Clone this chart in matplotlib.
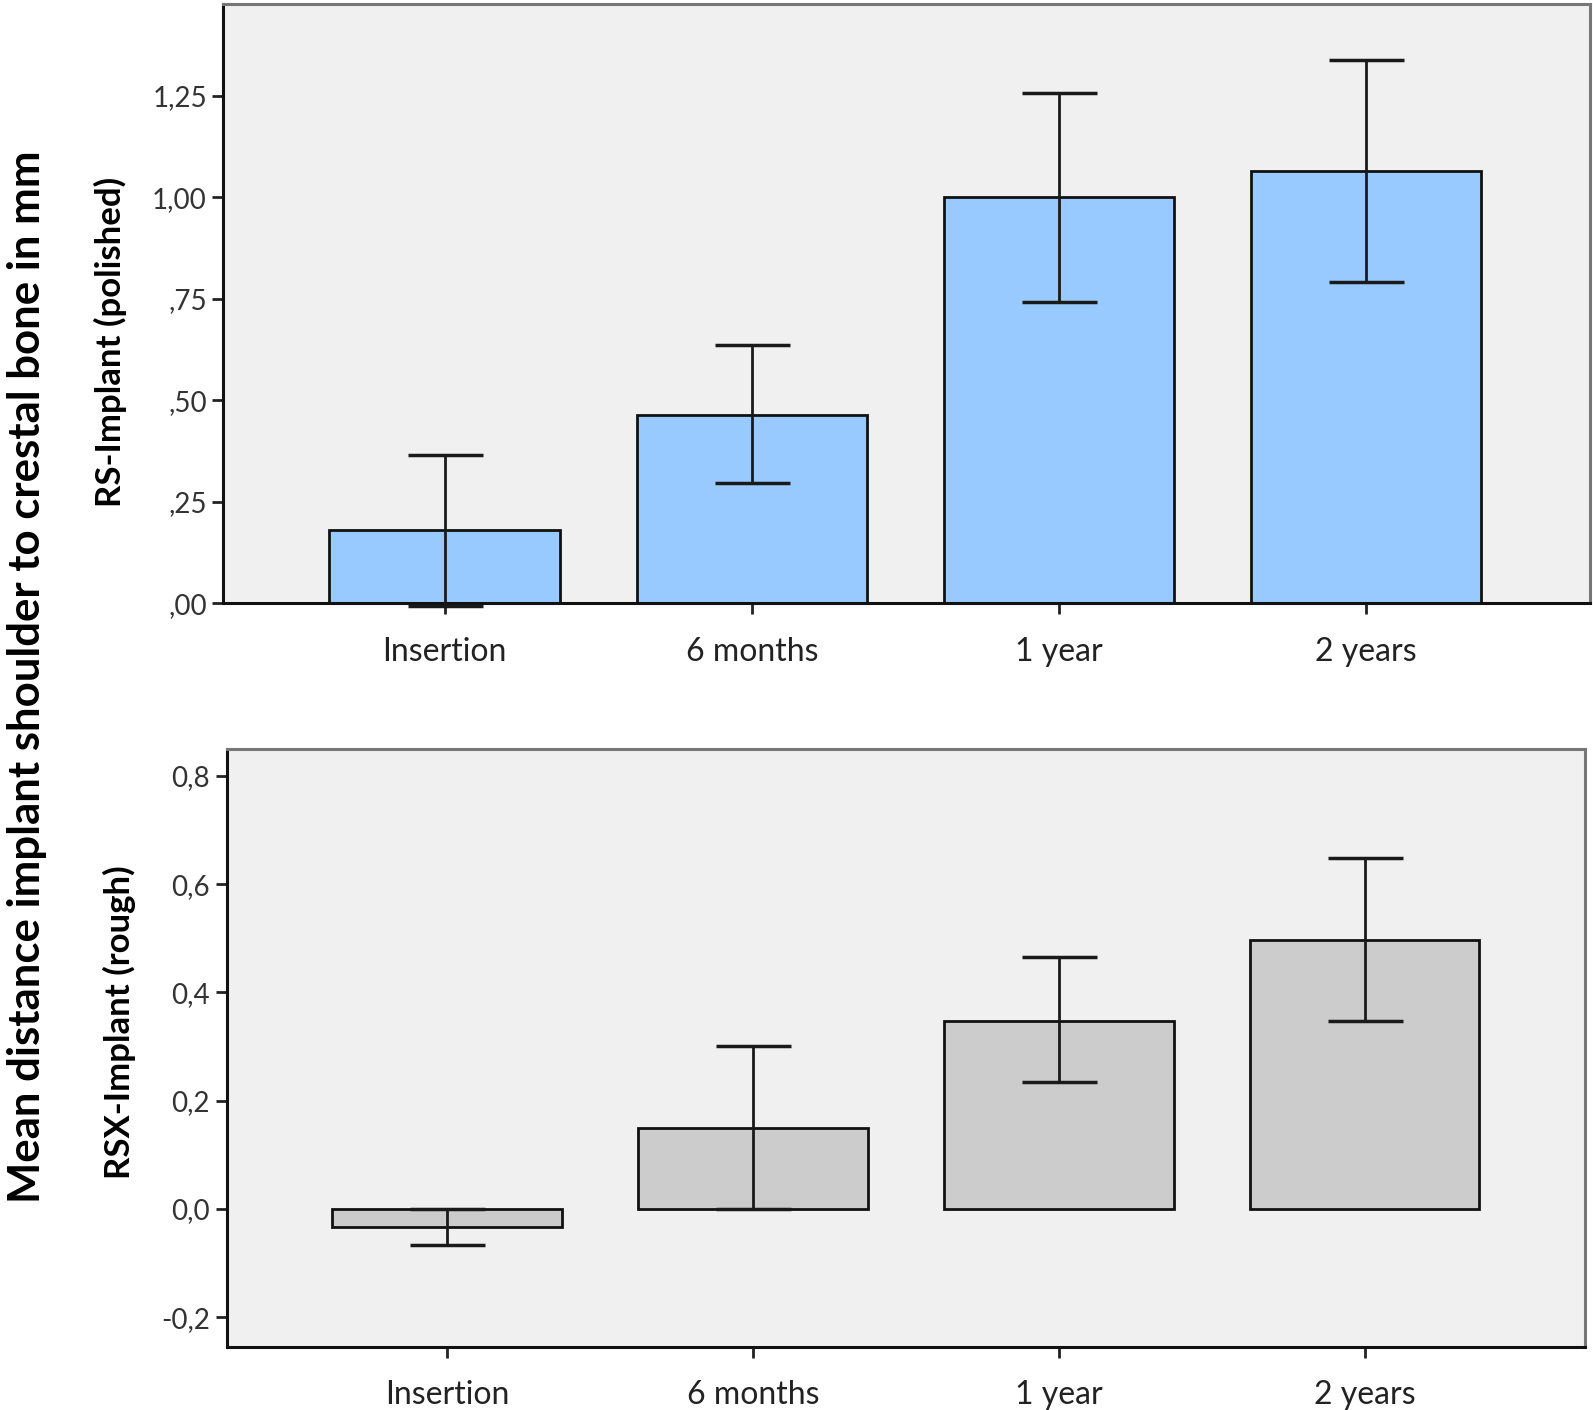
import matplotlib
matplotlib.use("Agg")
import matplotlib.pyplot as plt
import numpy as np

categories = ["Insertion", "6 months", "1 year", "2 years"]

rs_mean = [0.18, 0.465, 1.00, 1.065]
rs_low = [-0.005, 0.2975, 0.7425, 0.7925]
rs_high = [0.365, 0.635, 1.2575, 1.3375]

rsx_mean = [-0.034, 0.15, 0.347, 0.497]
rsx_low = [-0.066, 0.0, 0.2345, 0.347]
rsx_high = [0.0, 0.30, 0.465, 0.649]

rs_ticks = [0.0, 0.25, 0.5, 0.75, 1.0, 1.25]
rs_ticklabels = [",00", ",25", ",50", ",75", "1,00", "1,25"]
rsx_ticks = [-0.2, 0.0, 0.2, 0.4, 0.6, 0.8]
rsx_ticklabels = ["-0,2", "0,0", "0,2", "0,4", "0,6", "0,8"]

plt.rcParams['font.family'] = ['Lato', 'DejaVu Sans']

fig = plt.figure(figsize=(15.93, 14.10), dpi=100)
ax1 = fig.add_axes([0.1403, 0.572, 0.858, 0.425])
ax2 = fig.add_axes([0.1422, 0.0447, 0.8528, 0.4243])

x = np.arange(len(categories))

def style(ax, ylim, ticks, labels):
    ax.set_facecolor("#f0f0f0")
    ax.set_xlim(-0.72, 3.73)
    ax.set_ylim(*ylim)
    ax.set_yticks(ticks)
    ax.set_yticklabels(labels)
    ax.set_xticks(x)
    ax.set_xticklabels(categories)
    ax.tick_params(axis='both', direction='out', length=8, width=2, color='#222222')
    ax.tick_params(axis='y', labelsize=20, labelcolor='#333333', pad=4)
    ax.tick_params(axis='x', labelsize=23, labelcolor='#222222', pad=16)
    for s in ['left', 'bottom']:
        ax.spines[s].set_color('#111111')
        ax.spines[s].set_linewidth(2.2)
    for s in ['top', 'right']:
        ax.spines[s].set_color('#777777')
        ax.spines[s].set_linewidth(2.2)

def draw(ax, mean, low, high, color):
    mean = np.array(mean); low = np.array(low); high = np.array(high)
    ax.bar(x, mean, width=0.75, color=color, edgecolor='#111111', linewidth=2, zorder=2)
    yerr = np.vstack([mean - low, high - mean])
    ax.errorbar(x, mean, yerr=yerr, fmt='none', ecolor='#1a1a1a', elinewidth=2,
                capsize=27, capthick=2.5, zorder=3, clip_on=False)

draw(ax1, rs_mean, rs_low, rs_high, '#99caff')
style(ax1, (0, 1.475), rs_ticks, rs_ticklabels)
ax1.set_ylabel("RS-Implant (polished)", fontsize=25, fontweight='bold', labelpad=18)
ax1.yaxis.label.set_y(0.436)

draw(ax2, rsx_mean, rsx_low, rsx_high, '#cccccc')
style(ax2, (-0.255, 0.85), rsx_ticks, rsx_ticklabels)
ax2.set_xlim(-0.72, 3.72)
ax2.set_ylabel("RSX-Implant (rough)", fontsize=25, fontweight='bold', labelpad=18)
ax2.yaxis.label.set_y(0.543)

fig.text(0.017, 0.52, "Mean distance implant shoulder to crestal bone in mm",
         rotation=90, fontsize=31.5, fontweight='bold', ha='center', va='center')

fig.savefig("out.png", dpi=100, facecolor='white')
